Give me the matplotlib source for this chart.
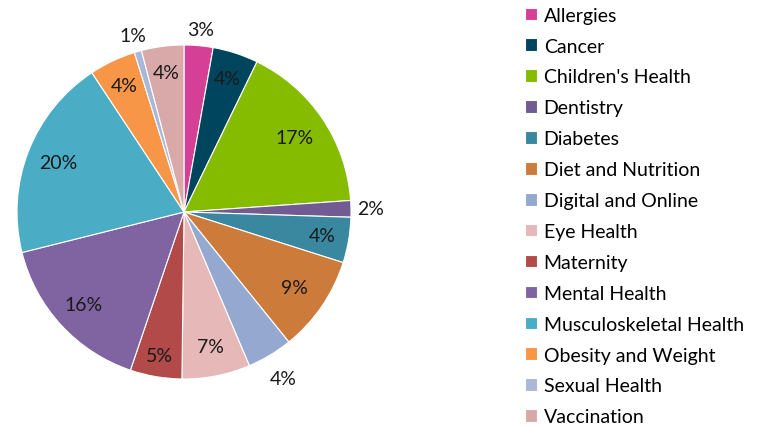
import matplotlib.pyplot as plt
import numpy as np

# share of topics (percent)
topics = ["Allergies", "Cancer", "Children's Health", "Dentistry", "Diabetes",
          "Diet and Nutrition", "Digital and Online", "Eye Health", "Maternity",
          "Mental Health", "Musculoskeletal Health", "Obesity and Weight",
          "Sexual Health", "Vaccination"]
shares = [2.8, 4.4, 16.7, 1.6, 4.4, 9.3, 4.4, 6.6, 5.0, 15.9, 19.6, 4.5, 0.7, 4.1]

colors = ["#D63F96", "#00455E", "#86BC00", "#725A92", "#3A88A0", "#CD7B3A",
          "#95A9D0", "#E6B8B7", "#B24A4A", "#8064A2", "#4BACC6", "#F79646",
          "#A9B8D8", "#D9A9A9"]
# label distance from centre, in units of the radius
label_r = [1.1, 0.84, 0.8, 1.12, 0.84, 0.8, 1.16, 0.82, 0.87, 0.82, 0.81, 0.84, 1.1, 0.84]

plt.rcParams['font.family'] = ['Lato', 'DejaVu Sans']

fig = plt.figure(figsize=(7.71, 4.27), dpi=100)
ax = fig.add_axes([17 / 771, 47 / 427, 334 / 771, 334 / 427])

wedges, _ = ax.pie(shares, colors=colors, startangle=90, counterclock=False,
                   wedgeprops={"edgecolor": "white", "linewidth": 0.8})
ax.set_xlim(-1, 1)
ax.set_ylim(-1, 1)
ax.set_aspect("equal")

total = sum(shares)
for w, val, r in zip(wedges, shares, label_r):
    mid = np.deg2rad((w.theta1 + w.theta2) / 2)
    ax.text(r * np.cos(mid), r * np.sin(mid), "%.0f%%" % (val / total * 100),
            ha="center", va="center", fontsize=14, color="#1a1a1a")

ax.legend(wedges, topics, loc="upper left", bbox_to_anchor=(513 / 771, 1.0 + 4 / 427),
          bbox_transform=fig.transFigure, frameon=False, fontsize=14,
          handlelength=0.62, handleheight=0.62, handletextpad=0.36,
          labelspacing=0.715, borderpad=0.1)

fig.savefig("out.png", dpi=100)
